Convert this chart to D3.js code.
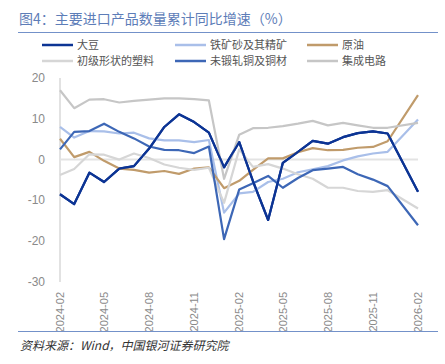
<!DOCTYPE html>
<html><head><meta charset="utf-8">
<script src="https://cdn.jsdelivr.net/npm/d3@7"></script>
<style>body{margin:0;background:#fff;}svg{display:block;}</style>
</head><body>
<svg id="c" width="445" height="364"></svg>
<script>
const months = ["2024-02","2024-03","2024-04","2024-05","2024-06","2024-07","2024-08","2024-09","2024-10","2024-11","2024-12",
"2025-01","2025-02","2025-03","2025-04","2025-05","2025-06","2025-07","2025-08","2025-09","2025-10","2025-11","2025-12","2026-02"];
const tickLabels = ["2024-02","2024-05","2024-08","2024-11","2025-02","2025-05","2025-08","2025-11","2026-02"];
const yTicks = [20,10,0,-10,-20,-30];
const seriesNames = ["大豆","铁矿砂及其精矿","原油","初级形状的塑料","未锻轧铜及铜材","集成电路"];
const soybean = [-8.5,-10.9,-3.2,-5.5,-2.2,-1.6,2.7,8.0,11.1,9.2,6.6,-1.9,4.3,-5.3,-14.8,-0.8,1.9,4.6,3.9,5.5,6.5,6.9,6.4,-7.9];
const ironOre = [8.0,5.4,7.0,6.9,6.4,6.6,5.2,4.7,4.7,4.3,4.8,-13.0,-8.3,-7.9,-5.5,-4.7,-3.1,-2.4,-1.6,-0.2,0.8,1.5,1.9,9.8];
const crudeOil = [5.1,0.6,1.9,-0.3,-2.2,-2.5,-3.2,-2.8,-3.5,-2.2,-1.9,-7.0,-5.2,-2.5,0.3,0.3,1.8,2.8,2.3,2.4,2.9,3.1,4.5,15.8];
const plastics = [-3.8,-2.3,1.3,1.2,0.0,1.5,0.4,-1.2,-2.0,-2.5,-2.0,-10.6,2.5,-1.8,-1.1,-2.2,-3.6,-4.7,-6.9,-6.9,-7.7,-7.9,-7.5,-12.0];
const copper = [2.5,6.8,7.0,8.8,6.8,5.2,3.2,2.4,2.3,1.6,3.2,-19.5,-7.3,-5.8,-4.0,-6.9,-4.5,-2.6,-2.2,-1.8,-3.6,-4.9,-6.5,-16.1];
const chips = [17.0,12.6,14.7,14.8,14.0,14.4,14.7,15.0,15.0,14.8,14.5,-4.7,6.1,7.7,7.8,8.2,8.8,9.5,8.4,9.0,8.4,7.8,7.8,9.0];
const colors = ["#0c3494","#a9bfe9","#c09b6b","#d6d6d6","#3d67b6","#c6c6c6"];

const allSeries = [soybean, ironOre, crudeOil, plastics, copper, chips];
const parse = d3.timeParse("%Y-%m");
const svg = d3.select("#c");
const font = "'Noto Sans CJK SC', 'Noto Sans', sans-serif";

// title
svg.append("text").attr("x",19).attr("y",24).attr("font-family",font).attr("font-size",14)
  .attr("fill","#5d7db8").text("图4：主要进口产品数量累计同比增速（%）");
svg.append("line").attr("x1",18).attr("x2",438).attr("y1",32.5).attr("y2",32.5)
  .attr("stroke","#7391c9").attr("stroke-width",1.2);

// legend
const legX = [42,175,307], legY = [45,61];
seriesNames.forEach((n,i)=>{
  const col = i%3, row = Math.floor(i/3);
  const g = svg.append("g");
  g.append("line").attr("x1",legX[col]).attr("x2",legX[col]+31).attr("y1",legY[row]).attr("y2",legY[row])
    .attr("stroke",colors[i]).attr("stroke-width",2.5);
  g.append("text").attr("x",legX[col]+35).attr("y",legY[row]+4).attr("font-family",font)
    .attr("font-size",11).attr("fill","#555").text(n);
});

const x = d3.scaleTime().domain([parse("2024-02"), parse("2026-02")]).range([60,418]);
const y = d3.scaleLinear().domain([-30,20]).range([282,78]);

// y axis labels
svg.append("g").selectAll("text").data(yTicks).join("text")
  .attr("x",45).attr("y",d=>y(d)+4).attr("text-anchor","end")
  .attr("font-family","'Liberation Sans', sans-serif").attr("font-size",12).attr("fill","#8a8a8a").text(d=>d);
svg.append("line").attr("x1",60).attr("x2",60).attr("y1",y(20)).attr("y2",y(-30))
  .attr("stroke","#d9d9d9").attr("stroke-width",1.5);
svg.append("line").attr("x1",60).attr("x2",418).attr("y1",y(0)).attr("y2",y(0))
  .attr("stroke","#e3e3e3").attr("stroke-width",2);

// x labels
svg.append("g").selectAll("text").data(tickLabels).join("text")
  .attr("transform",d=>`translate(${x(parse(d))+4},292) rotate(-90)`)
  .attr("text-anchor","end").attr("font-family","'Liberation Sans', sans-serif")
  .attr("font-size",11).attr("fill","#8a8a8a").text(d=>d);

// lines
const line = d3.line().x((d,i)=>x(parse(months[i]))).y(d=>y(d));
allSeries.forEach((s,i)=>{
  svg.append("path").datum(s).attr("d",line).attr("fill","none")
    .attr("stroke",colors[i]).attr("stroke-width",2.2).attr("stroke-linejoin","round");
});
// redraw dark series on top order
svg.append("path").datum(soybean).attr("d",line).attr("fill","none")
  .attr("stroke",colors[0]).attr("stroke-width",2.2).attr("stroke-linejoin","round");

// bottom rule and source
svg.append("line").attr("x1",18).attr("x2",438).attr("y1",331.5).attr("y2",331.5)
  .attr("stroke","#7391c9").attr("stroke-width",1.2);
svg.append("text").attr("x",20).attr("y",350).attr("font-family","'Noto Sans CJK SC', serif")
  .attr("font-size",12).attr("font-style","italic").attr("fill","#333").text("资料来源：Wind，中国银河证券研究院");
</script>
</body></html>
